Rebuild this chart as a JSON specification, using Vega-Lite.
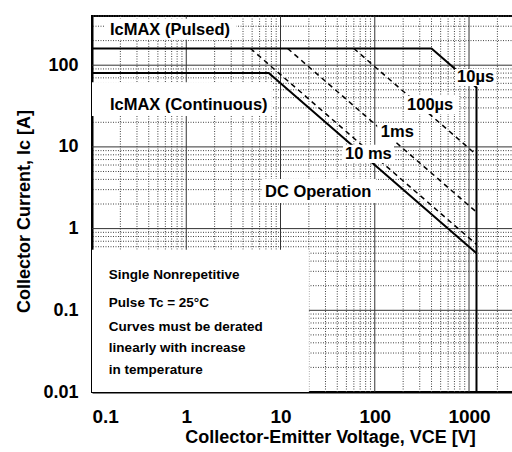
{
  "$schema": "https://vega.github.io/schema/vega-lite/v6.json",
  "autosize": "none",
  "width": 422,
  "height": 376,
  "padding": {"left": 92, "top": 16, "right": 0, "bottom": 60},
  "background": "white",
  "view": {"stroke": "black", "strokeWidth": 2},
  "datasets": {
    "minorX": [{"v":0.2},{"v":0.3},{"v":0.4},{"v":0.5},{"v":0.6},{"v":0.7},{"v":0.8},{"v":0.9},{"v":2},{"v":3},{"v":4},{"v":5},{"v":6},{"v":7},{"v":8},{"v":9},{"v":20},{"v":30},{"v":40},{"v":50},{"v":60},{"v":70},{"v":80},{"v":90},{"v":200},{"v":300},{"v":400},{"v":500},{"v":600},{"v":700},{"v":800},{"v":900},{"v":2000},{"v":3000}],
    "minorY": [{"i":0.02},{"i":0.03},{"i":0.04},{"i":0.05},{"i":0.06},{"i":0.07},{"i":0.08},{"i":0.09},{"i":0.2},{"i":0.3},{"i":0.4},{"i":0.5},{"i":0.6},{"i":0.7},{"i":0.8},{"i":0.9},{"i":2},{"i":3},{"i":4},{"i":5},{"i":6},{"i":7},{"i":8},{"i":9},{"i":20},{"i":30},{"i":40},{"i":50},{"i":60},{"i":70},{"i":80},{"i":90},{"i":200},{"i":300},{"i":400}],
    "majorX": [{"v":1},{"v":10},{"v":100},{"v":1000}],
    "majorY": [{"i":0.1},{"i":1},{"i":10},{"i":100}],
    "solid": [
      {"series":"Pulsed / 10µs","v":0.1,"i":160,"ord":0},
      {"series":"Pulsed / 10µs","v":400,"i":160,"ord":1},
      {"series":"Pulsed / 10µs","v":1200,"i":53.3,"ord":2},
      {"series":"Pulsed / 10µs","v":1200,"i":0.01,"ord":3},
      {"series":"DC","v":0.1,"i":80,"ord":0},
      {"series":"DC","v":7.5,"i":80,"ord":1},
      {"series":"DC","v":1200,"i":0.5,"ord":2}
    ],
    "dashed": [
      {"series":"10 ms","v":4.8,"i":160,"ord":0},
      {"series":"10 ms","v":1200,"i":0.64,"ord":1},
      {"series":"1ms","v":11.9,"i":160,"ord":0},
      {"series":"1ms","v":1200,"i":1.59,"ord":1},
      {"series":"100µs","v":60,"i":160,"ord":0},
      {"series":"100µs","v":1200,"i":8,"ord":1}
    ],
    "boxes": [
      {"v":0.1,"v2":20,"i":0.01,"i2":0.55},
      {"v":0.135,"v2":3.4,"i":205,"i2":370},
      {"v":0.1,"v2":8.1,"i":23.9,"i2":62},
      {"v":6.4,"v2":103,"i":2.06,"i2":4.06},
      {"v":46,"v2":160,"i":6.37,"i2":10.6},
      {"v":106,"v2":281,"i":11.8,"i2":19.6},
      {"v":209,"v2":783,"i":25.3,"i2":42},
      {"v":710,"v2":1936,"i":55.8,"i2":90}
    ],
    "labels": [
      {"text":"IcMAX (Pulsed)","v":0.155,"i":270},
      {"text":"IcMAX (Continuous)","v":0.155,"i":32.7},
      {"text":"DC Operation","v":6.85,"i":2.81},
      {"text":"10 ms","v":48.3,"i":8.2},
      {"text":"1ms","v":116,"i":15.2},
      {"text":"100µs","v":220,"i":32.7},
      {"text":"10µs","v":746,"i":72}
    ],
    "note": [
      {"text":"Single Nonrepetitive","v":0.151,"i":0.27},
      {"text":"Pulse Tc = 25°C","v":0.151,"i":0.123},
      {"text":"Curves must be derated","v":0.151,"i":0.0625},
      {"text":"linearly with increase","v":0.151,"i":0.0345},
      {"text":"in temperature","v":0.151,"i":0.0186}
    ]
  },
  "layer": [
    {
      "data": {"name": "minorX"},
      "mark": {"type": "rule", "color": "#444", "strokeWidth": 1, "strokeDash": [1, 1.5]},
      "encoding": {
        "x": {"field": "v", "type": "quantitative", "scale": {"type": "log", "domain": [0.1, 3000], "nice": false},
          "axis": {"values": [0.1, 1, 10, 100, 1000], "labelExpr": "toString(datum.value)", "title": "Collector-Emitter Voltage, VCE [V]", "titleX": 238, "titleY": 50, "titleBaseline": "alphabetic", "labelPadding": 15}}
      }
    },
    {
      "data": {"name": "minorY"},
      "mark": {"type": "rule", "color": "#444", "strokeWidth": 1, "strokeDash": [1, 1.5]},
      "encoding": {
        "y": {"field": "i", "type": "quantitative", "scale": {"type": "log", "domain": [0.01, 400], "nice": false},
          "axis": {"values": [0.01, 0.1, 1, 10, 100], "labelExpr": "toString(datum.value)", "title": "Collector Current, Ic [A]", "titleX": -68, "titleY": 195, "titleBaseline": "middle", "titleAlign": "center", "labelPadding": 14}}
      }
    },
    {
      "data": {"name": "majorX"},
      "mark": {"type": "rule", "color": "#333", "strokeWidth": 1},
      "encoding": {
        "x": {"field": "v", "type": "quantitative", "scale": {"type": "log", "domain": [0.1, 3000], "nice": false},
          "axis": {"values": [0.1, 1, 10, 100, 1000], "labelExpr": "toString(datum.value)", "title": "Collector-Emitter Voltage, VCE [V]", "titleX": 238, "titleY": 50, "titleBaseline": "alphabetic", "labelPadding": 15}}
      }
    },
    {
      "data": {"name": "majorY"},
      "mark": {"type": "rule", "color": "#333", "strokeWidth": 1},
      "encoding": {
        "y": {"field": "i", "type": "quantitative", "scale": {"type": "log", "domain": [0.01, 400], "nice": false},
          "axis": {"values": [0.01, 0.1, 1, 10, 100], "labelExpr": "toString(datum.value)", "title": "Collector Current, Ic [A]", "titleX": -68, "titleY": 195, "titleBaseline": "middle", "titleAlign": "center", "labelPadding": 14}}
      }
    },
    {
      "data": {"name": "solid"},
      "mark": {"type": "line", "color": "black", "strokeWidth": 2},
      "encoding": {
        "x": {"field": "v", "type": "quantitative", "scale": {"type": "log", "domain": [0.1, 3000], "nice": false},
          "axis": {"values": [0.1, 1, 10, 100, 1000], "labelExpr": "toString(datum.value)", "title": "Collector-Emitter Voltage, VCE [V]", "titleX": 238, "titleY": 50, "titleBaseline": "alphabetic", "labelPadding": 15}},
        "y": {"field": "i", "type": "quantitative", "scale": {"type": "log", "domain": [0.01, 400], "nice": false},
          "axis": {"values": [0.01, 0.1, 1, 10, 100], "labelExpr": "toString(datum.value)", "title": "Collector Current, Ic [A]", "titleX": -68, "titleY": 195, "titleBaseline": "middle", "titleAlign": "center", "labelPadding": 14}},
        "detail": {"field": "series"},
        "order": {"field": "ord"}
      }
    },
    {
      "data": {"name": "dashed"},
      "mark": {"type": "line", "color": "black", "strokeWidth": 1.5, "strokeDash": [5, 4]},
      "encoding": {
        "x": {"field": "v", "type": "quantitative", "scale": {"type": "log", "domain": [0.1, 3000], "nice": false},
          "axis": {"values": [0.1, 1, 10, 100, 1000], "labelExpr": "toString(datum.value)", "title": "Collector-Emitter Voltage, VCE [V]", "titleX": 238, "titleY": 50, "titleBaseline": "alphabetic", "labelPadding": 15}},
        "y": {"field": "i", "type": "quantitative", "scale": {"type": "log", "domain": [0.01, 400], "nice": false},
          "axis": {"values": [0.01, 0.1, 1, 10, 100], "labelExpr": "toString(datum.value)", "title": "Collector Current, Ic [A]", "titleX": -68, "titleY": 195, "titleBaseline": "middle", "titleAlign": "center", "labelPadding": 14}},
        "detail": {"field": "series"},
        "order": {"field": "ord"}
      }
    },
    {
      "data": {"name": "boxes"},
      "mark": {"type": "rect", "color": "white"},
      "encoding": {
        "x": {"field": "v", "type": "quantitative", "scale": {"type": "log", "domain": [0.1, 3000], "nice": false},
          "axis": {"values": [0.1, 1, 10, 100, 1000], "labelExpr": "toString(datum.value)", "title": "Collector-Emitter Voltage, VCE [V]", "titleX": 238, "titleY": 50, "titleBaseline": "alphabetic", "labelPadding": 15}},
        "x2": {"field": "v2"},
        "y": {"field": "i", "type": "quantitative", "scale": {"type": "log", "domain": [0.01, 400], "nice": false},
          "axis": {"values": [0.01, 0.1, 1, 10, 100], "labelExpr": "toString(datum.value)", "title": "Collector Current, Ic [A]", "titleX": -68, "titleY": 195, "titleBaseline": "middle", "titleAlign": "center", "labelPadding": 14}},
        "y2": {"field": "i2"}
      }
    },
    {
      "data": {"name": "labels"},
      "mark": {"type": "text", "align": "left", "baseline": "middle", "font": "Liberation Sans", "fontWeight": "bold", "fontSize": 16.5, "color": "black"},
      "encoding": {
        "x": {"field": "v", "type": "quantitative", "scale": {"type": "log", "domain": [0.1, 3000], "nice": false},
          "axis": {"values": [0.1, 1, 10, 100, 1000], "labelExpr": "toString(datum.value)", "title": "Collector-Emitter Voltage, VCE [V]", "titleX": 238, "titleY": 50, "titleBaseline": "alphabetic", "labelPadding": 15}},
        "y": {"field": "i", "type": "quantitative", "scale": {"type": "log", "domain": [0.01, 400], "nice": false},
          "axis": {"values": [0.01, 0.1, 1, 10, 100], "labelExpr": "toString(datum.value)", "title": "Collector Current, Ic [A]", "titleX": -68, "titleY": 195, "titleBaseline": "middle", "titleAlign": "center", "labelPadding": 14}},
        "text": {"field": "text"}
      }
    },
    {
      "data": {"name": "note"},
      "mark": {"type": "text", "align": "left", "baseline": "middle", "font": "Liberation Sans", "fontWeight": "bold", "fontSize": 13.5, "color": "black"},
      "encoding": {
        "x": {"field": "v", "type": "quantitative", "scale": {"type": "log", "domain": [0.1, 3000], "nice": false},
          "axis": {"values": [0.1, 1, 10, 100, 1000], "labelExpr": "toString(datum.value)", "title": "Collector-Emitter Voltage, VCE [V]", "titleX": 238, "titleY": 50, "titleBaseline": "alphabetic", "labelPadding": 15}},
        "y": {"field": "i", "type": "quantitative", "scale": {"type": "log", "domain": [0.01, 400], "nice": false},
          "axis": {"values": [0.01, 0.1, 1, 10, 100], "labelExpr": "toString(datum.value)", "title": "Collector Current, Ic [A]", "titleX": -68, "titleY": 195, "titleBaseline": "middle", "titleAlign": "center", "labelPadding": 14}},
        "text": {"field": "text"}
      }
    }
  ],
  "config": {
    "axis": {
      "grid": false,
      "ticks": false,
      "domainColor": "black",
      "domainWidth": 2,
      "labelFont": "Liberation Sans",
      "labelFontWeight": "bold",
      "labelFontSize": 18,
      "labelColor": "black",
      "titleFont": "Liberation Sans",
      "titleFontWeight": "bold",
      "titleFontSize": 18,
      "titleColor": "black",
      "zindex": 1
    },
    "axisY": {"labelFontSize": 18},
    "axisX": {"labelFontSize": 19}
  }
}
